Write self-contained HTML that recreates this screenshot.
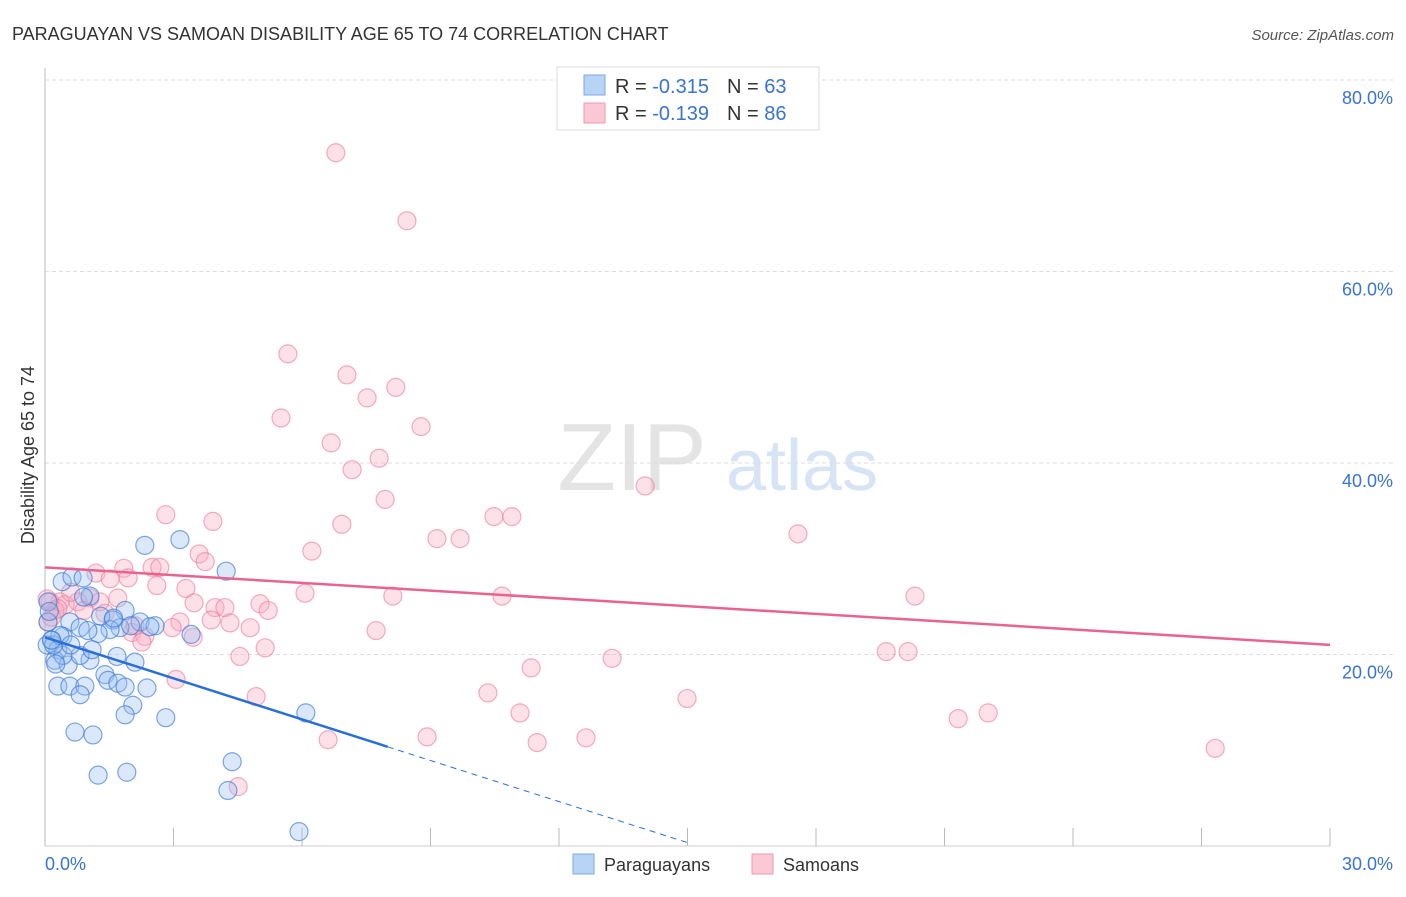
<!DOCTYPE html>
<html><head><meta charset="utf-8"><style>
body{margin:0;background:#fff;font-family:"Liberation Sans",sans-serif}
svg text{font-family:"Liberation Sans",sans-serif}
</style></head><body>
<svg width="1406" height="892" xmlns="http://www.w3.org/2000/svg">
<text x="12" y="40" font-size="18" fill="#333">PARAGUAYAN VS SAMOAN DISABILITY AGE 65 TO 74 CORRELATION CHART</text>
<text x="1394" y="40" font-size="15" fill="#555" text-anchor="end" font-style="italic">Source: ZipAtlas.com</text>
<g>
<text x="632" y="490" font-size="96" fill="#e4e4e4" text-anchor="middle" font-family="Liberation Serif">ZIP</text>
<text x="802" y="490" font-size="72" fill="#d6e4f5" text-anchor="middle">atlas</text>
</g>
<g id="grid"></g>
<g id="axes"></g>
<text transform="translate(34,455) rotate(-90)" font-size="18" fill="#333" text-anchor="middle">Disability Age 65 to 74</text>
<g id="pts"></g>
<g id="lines"></g>
<g>
<rect x="557" y="67" width="262" height="63" fill="#fff" stroke="#ddd"/>
<rect x="584" y="75" width="21" height="20" fill="#b8d4f5" stroke="#7aa8e6"/>
<rect x="584" y="103" width="21" height="20" fill="#fbc8d6" stroke="#f097b0"/>
<text x="615" y="93" font-size="20" fill="#333">R = <tspan fill="#3a73d0">-0.315</tspan><tspan dx="18">N = </tspan><tspan fill="#3a73d0">63</tspan></text>
<text x="615" y="120" font-size="20" fill="#333">R = <tspan fill="#3a73d0">-0.139</tspan><tspan dx="18">N = </tspan><tspan fill="#3a73d0">86</tspan></text>
</g>
<g>
<rect x="573" y="854" width="21" height="20" fill="#b8d4f5" stroke="#7aa8e6"/>
<text x="604" y="871" font-size="18" fill="#333">Paraguayans</text>
<rect x="752" y="854" width="21" height="20" fill="#fbc8d6" stroke="#f097b0"/>
<text x="783" y="871" font-size="18" fill="#333">Samoans</text>
</g>
</svg>
<script>
const yTicks=[20,40,60,80];
const yTickLabels=["20.0%","40.0%","60.0%","80.0%"];
const xTicks=[0,3,6,9,12,15,18,21,24,27,30];
const xEndLabels=["0.0%","30.0%"];
const blueX=[0.40,0.63,0.89,2.33,3.15,4.23,1.05,1.87,1.59,2.22,2.57,1.75,1.52,0.58,0.82,1.24,0.42,0.16,0.05,0.30,0.23,0.54,1.05,0.82,1.68,2.10,0.42,0.30,0.58,0.93,0.82,1.40,1.47,1.70,1.87,2.38,2.05,1.87,2.82,0.70,1.12,1.24,1.91,4.37,4.27,5.93,6.09,3.41,0.07,0.07,0.20,1.00,1.30,0.10,0.35,0.60,2.00,1.10,0.25,0.15,0.90,1.60,2.45];
const blueY=[27.6,28.1,28.0,31.4,32.0,28.7,26.1,24.6,23.6,23.4,23.0,22.8,22.6,23.4,22.8,22.2,21.9,21.5,21.0,20.5,19.4,18.9,19.4,19.9,19.8,19.2,19.9,16.7,16.7,16.7,15.8,17.9,17.3,17.0,16.6,16.5,14.7,13.7,13.4,11.9,11.6,7.4,7.7,8.8,5.8,1.5,13.9,22.1,23.4,25.5,21.0,22.5,24.0,24.5,22.0,21.0,23.0,20.5,19.0,21.5,26.0,23.8,22.9];
const pinkX=[6.79,8.45,5.67,7.05,8.19,7.52,5.51,8.78,6.68,7.80,7.17,14.01,7.94,2.82,3.92,6.93,10.48,10.90,9.15,9.69,17.58,6.23,3.60,3.74,2.50,2.68,1.84,1.19,1.52,1.94,2.61,3.29,6.07,8.12,10.67,20.31,1.05,1.28,1.70,0.77,0.35,0.12,0.47,0.23,0.91,3.48,5.02,5.21,3.97,4.20,3.88,4.32,3.15,4.79,2.97,2.03,2.33,3.46,2.26,7.73,5.14,4.55,13.24,19.64,20.15,11.35,3.06,4.93,10.34,14.99,11.09,21.32,22.02,6.61,8.92,11.49,12.63,27.32,4.51,0.07,0.05,0.60,1.40,0.30,2.10,0.15];
const pinkY=[72.4,65.3,51.4,49.2,47.9,46.8,44.7,43.8,42.1,40.5,39.3,37.6,36.2,34.6,33.9,33.6,34.4,34.4,32.1,32.1,32.6,30.8,30.5,29.7,29.1,29.1,29.0,28.5,27.9,28.0,27.2,26.9,26.4,26.1,26.1,26.1,25.9,25.5,25.9,25.5,25.5,25.5,25.2,24.6,24.6,25.4,25.3,24.6,24.9,24.9,23.6,23.3,23.4,22.8,22.8,22.3,21.9,21.8,21.3,22.5,20.7,19.8,19.6,20.3,20.3,18.6,17.4,15.6,16.0,15.4,13.9,13.3,13.9,11.1,11.4,10.8,11.3,10.2,6.2,23.4,25.8,26.5,24.3,24.8,23.0,23.9];
const blueTrend=[21.8,-1.43];  // intercept, slope
const blueSolidEnd=[8.0];
const blueDashEnd=[15.06];
const pinkTrend=[29.1,-0.27];
const pinkEnd=[30];
const sx=v=>45+v*(1285/30), sy=v=>846-v*(766/80);
const NS="http://www.w3.org/2000/svg";
function mk(tag,attrs,parent){const e=document.createElementNS(NS,tag);for(const k in attrs)e.setAttribute(k,attrs[k]);parent.appendChild(e);return e;}
const grid=document.getElementById('grid'),axes=document.getElementById('axes');
yTicks.forEach((t,i)=>{
 const l=mk('line',{x1:45,x2:1395,y1:sy(t),y2:sy(t),stroke:'#ddd','stroke-dasharray':'4,3'},grid);
 
 
 const tx=mk('text',{x:1393,y:sy(t)+24,'font-size':18,fill:'#3a73d0','text-anchor':'end'},axes);
 tx.textContent=yTickLabels[i];
 
 
});
const ax=mk('line',{x1:45,x2:45,y1:68,y2:846,stroke:'#bbb'},axes);


const bx=mk('line',{x1:45,x2:1330,y1:846,y2:846,stroke:'#ccc'},axes);


xTicks.forEach(t=>{
 const l=mk('line',{x1:sx(t),x2:sx(t),y1:828,y2:846,stroke:'#bbb'},axes);
 
 
});
const xl0=mk('text',{x:45,y:870,'font-size':18,fill:'#3a73d0'},axes);xl0.textContent=xEndLabels[0];


const xl1=mk('text',{x:1393,y:870,'font-size':18,fill:'#3a73d0','text-anchor':'end'},axes);xl1.textContent=xEndLabels[1];


const pts=document.getElementById('pts');
pinkX.forEach((x,i)=>{
 const c=mk('circle',{cx:sx(x),cy:sy(pinkY[i]),r:9,fill:'rgba(248,170,192,0.35)',stroke:'rgba(235,120,155,0.6)','stroke-width':1.2},pts);
 
 
});
blueX.forEach((x,i)=>{
 const c=mk('circle',{cx:sx(x),cy:sy(blueY[i]),r:9,fill:'rgba(150,190,240,0.35)',stroke:'rgba(60,120,210,0.65)','stroke-width':1.2},pts);
 
 
});
const lines=document.getElementById('lines');
const by=x=>blueTrend[0]+blueTrend[1]*x, py=x=>pinkTrend[0]+pinkTrend[1]*x;
const l1=mk('line',{x1:sx(0),y1:sy(by(0)),x2:sx(blueSolidEnd[0]),y2:sy(by(blueSolidEnd[0])),stroke:'#2a6fd6','stroke-width':2.5},lines);


const l2=mk('line',{x1:sx(blueSolidEnd[0]),y1:sy(by(blueSolidEnd[0])),x2:sx(blueDashEnd[0]),y2:sy(by(blueDashEnd[0])),stroke:'#2a6fd6','stroke-width':1,'stroke-dasharray':'6,5'},lines);


const l3=mk('line',{x1:sx(0),y1:sy(py(0)),x2:sx(pinkEnd[0]),y2:sy(py(pinkEnd[0])),stroke:'#e8648e','stroke-width':2.5},lines);


</script>
</body></html>
